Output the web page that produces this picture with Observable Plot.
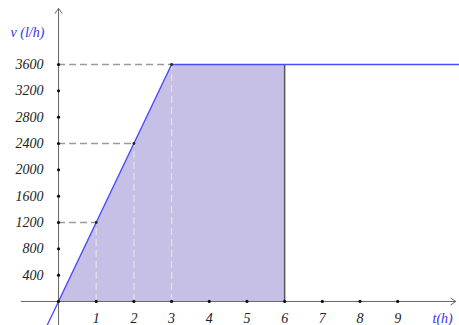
<!DOCTYPE html>
<html><head><meta charset="utf-8">
<script src="https://cdn.jsdelivr.net/npm/d3@7"></script>
<script src="https://cdn.jsdelivr.net/npm/@observablehq/plot@0.6"></script>
<style>body{margin:0;background:#fff} svg text{font-family:"Liberation Serif","Times New Roman","DejaVu Serif",serif !important;}</style>
</head><body><div id="chart"></div>
<script>
// Data
const xTicks = [1,2,3,4,5,6,7,8,9];
const yTicks = [400,800,1200,1600,2000,2400,2800,3200,3600];
const keyT = [1,2,3];
const keyV = [1200,2400,3600];
const areaT = [0,3,6];
const areaV = [0,3600,3600];
const lineT = [-0.35,3,10.7];
const lineV = [-420,3600,3600];
const endT = 6;
const endV = 3600;

const xDom = [-1.54, 10.64];
const yDom = [-365, 4572];

const font = "Liberation Serif";
const chart = Plot.plot({
  width: 459, height: 325,
  marginTop: 0, marginRight: 0, marginBottom: 0, marginLeft: 0,
  x: {domain: xDom, axis: null},
  y: {domain: yDom, axis: null},
  style: {fontFamily: font, background: "#fff", overflow: "visible"},
  marks: [
    Plot.areaY(areaT.map((t,i)=>({t, v: areaV[i]})), {x: "t", y1: 0, y2: "v", fill: "#c6c0e6", fillOpacity: 1}),
    // dashed guides
    Plot.ruleY(keyV, {x1: 0, x2: (d,i)=>keyT[i], y: d=>d, stroke: "#9a9a9a", strokeDasharray: "7,4", strokeWidth: 1.3}),
    Plot.ruleX(keyT, {x: d=>d, y1: 0, y2: (d,i)=>keyV[i], stroke: "#e0e0e0", strokeDasharray: "7,4", strokeWidth: 1.3}),
    // axes
    Plot.arrow([{x1: xDom[0]+0.55, x2: xDom[1]-0.1, y: 0}], {x1: "x1", x2: "x2", y1: "y", y2: "y", stroke: "#666", strokeWidth: 1, headLength: 9, headAngle: 70}),
    Plot.arrow([{x: 0, y1: yDom[0], y2: yDom[1]-120}], {x1: "x", x2: "x", y1: "y1", y2: "y2", stroke: "#666", strokeWidth: 1, headLength: 9, headAngle: 70}),
    // end vertical
    Plot.ruleX([endT], {y1: 0, y2: endV, stroke: "#555", strokeWidth: 1.5}),
    // blue line
    Plot.line(lineT.map((t,i)=>({t, v: lineV[i]})), {x: "t", y: "v", stroke: "#4a4aff", strokeWidth: 1.3}),
    // dots
    Plot.dot(xTicks, {x: d=>d, y: 0, r: 1.6, fill: "#111", stroke: null}),
    Plot.dot(yTicks, {x: 0, y: d=>d, r: 1.6, fill: "#111", stroke: null}),
    Plot.dot([0], {x: 0, y: 0, r: 1.6, fill: "#111", stroke: null}),
    Plot.dot(keyT, {x: d=>d, y: (d,i)=>keyV[i], r: 1.4, fill: "#222", stroke: null}),
    // tick labels
    Plot.text(xTicks, {x: d=>d, y: 0, dy: 17, text: d=>String(d), fontSize: 14, fontStyle: "italic", fill: "#222", fontFamily: font}),
    Plot.text(yTicks, {x: 0, y: d=>d, dx: -15, textAnchor: "end", text: d=>String(d), fontSize: 14, fontStyle: "italic", fill: "#222", fontFamily: font}),
    // axis titles
    Plot.text(["v (l/h)"], {x: 0, y: yDom[1], dx: -48, dy: 32, textAnchor: "start", text: d=>d, fontSize: 14, fontStyle: "italic", fill: "#3333ee", fontFamily: font}),
    Plot.text(["t(h)"], {x: xDom[1], y: 0, dx: -27, dy: 17, textAnchor: "start", text: d=>d, fontSize: 14, fontStyle: "italic", fill: "#3333ee", fontFamily: font})
  ]
});
document.getElementById("chart").appendChild(chart);
</script>
</body></html>
